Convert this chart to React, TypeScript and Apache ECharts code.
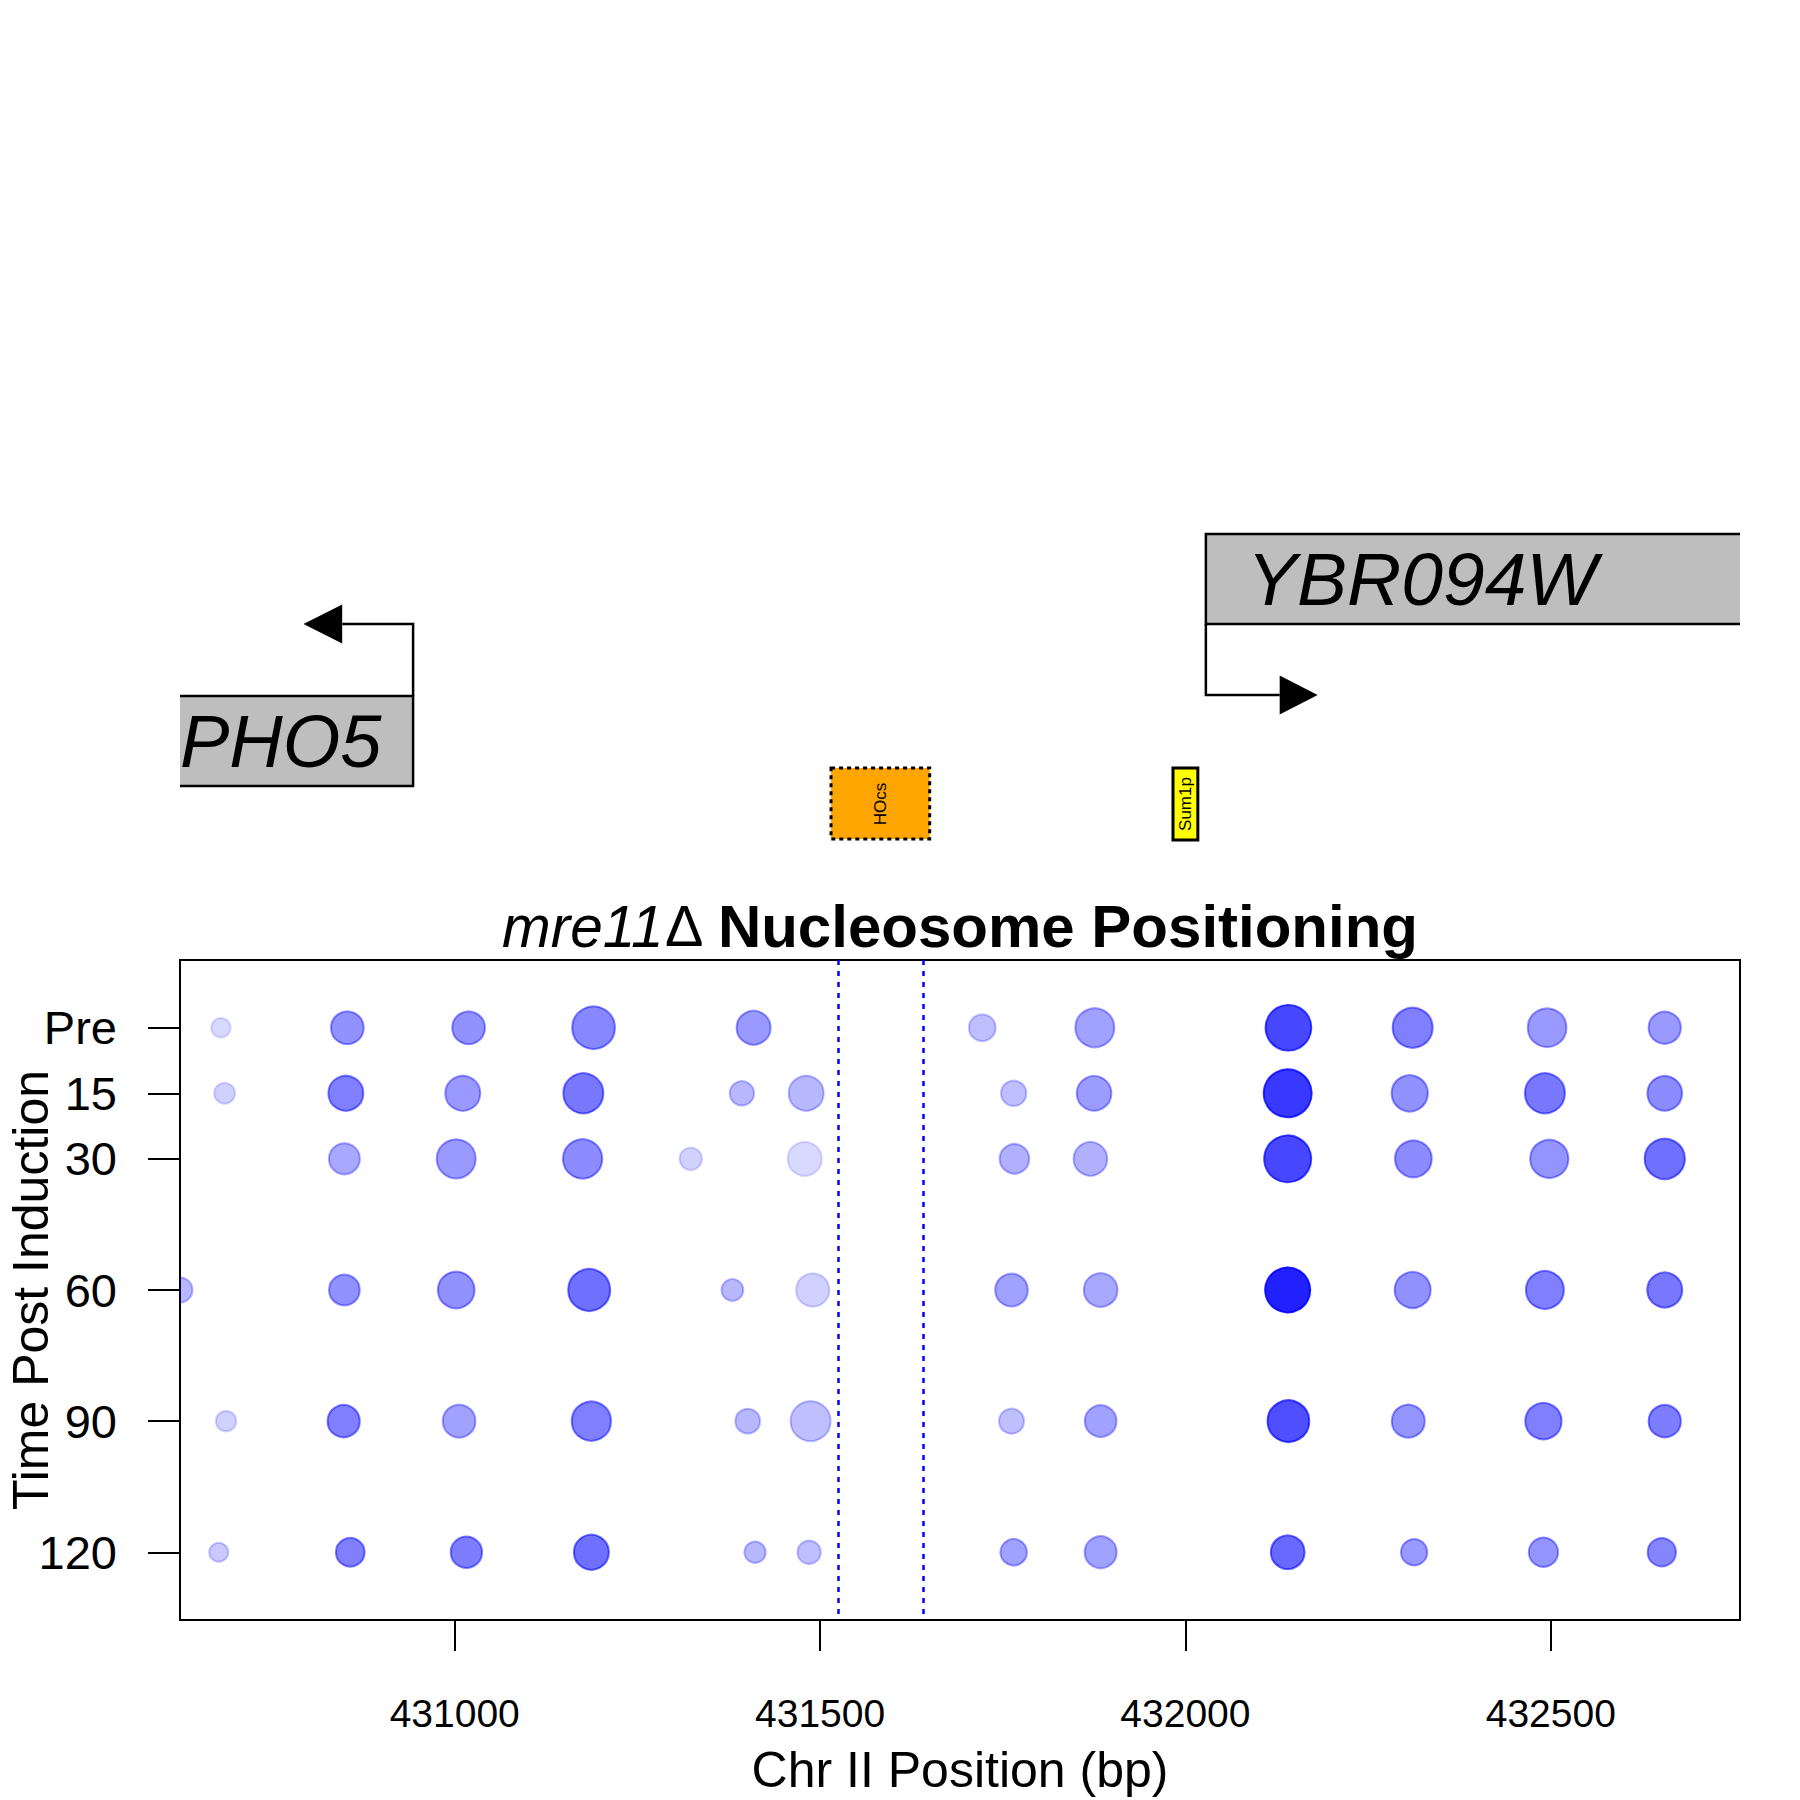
import React, { useEffect, useRef } from 'react';
import * as echarts from 'echarts';

// ---- axis ----
const xMin = 430624;
const xMax = 432759;
const xTicks = [431000, 431500, 432000, 432500];
const timeLabels = ['Pre', '15', '30', '60', '90', '120'];
const timeMinutes = [0, 15, 30, 60, 90, 120];

// ---- nucleosome calls: position (bp), occupancy (circle diameter), signal (opacity) ----
const posPre = [430680, 430853, 431019, 431190, 431409, 431722, 431876, 432141, 432311, 432495, 432656];
const occPre = [19.3, 32.7, 32.7, 42.7, 34, 26.7, 39, 45.7, 40, 38.7, 32.3];
const sigPre = [0.15, 0.43, 0.43, 0.47, 0.4, 0.25, 0.37, 0.72, 0.5, 0.4, 0.4];

const pos15 = [430685, 430851, 431011, 431176, 431393, 431481, 431765, 431875, 432140, 432307, 432492, 432656];
const occ15 = [20.7, 35, 35, 40, 24.3, 35, 25.3, 34.7, 48, 36.3, 40, 34.7];
const sig15 = [0.18, 0.5, 0.4, 0.53, 0.28, 0.28, 0.25, 0.39, 0.78, 0.43, 0.53, 0.45];

const pos30 = [430849, 431002, 431175, 431323, 431479, 431766, 431870, 432140, 432312, 432498, 432656];
const occ30 = [31, 39, 39.3, 22.3, 34, 29.7, 33.7, 47, 36.7, 38.3, 40.3];
const sig30 = [0.34, 0.4, 0.45, 0.18, 0.15, 0.31, 0.31, 0.72, 0.45, 0.42, 0.56];

const pos60 = [430624, 430849, 431002, 431184, 431380, 431490, 431762, 431884, 432140, 432311, 432492, 432656];
const occ60 = [25, 30.7, 36.7, 42, 21.7, 33.3, 32.7, 33.7, 45, 36, 38, 35];
const sig60 = [0.28, 0.43, 0.43, 0.56, 0.28, 0.18, 0.37, 0.34, 0.87, 0.43, 0.5, 0.53];

const pos90 = [430687, 430848, 431006, 431187, 431401, 431487, 431762, 431884, 432141, 432305, 432490, 432656];
const occ90 = [20.3, 32.3, 32.7, 39.3, 24.7, 40, 25, 31.7, 41.7, 33, 36.3, 32.3];
const sig90 = [0.18, 0.5, 0.37, 0.5, 0.28, 0.25, 0.25, 0.37, 0.69, 0.42, 0.5, 0.51];

const pos120 = [430677, 430857, 431016, 431187, 431411, 431485, 431765, 431884, 432140, 432313, 432490, 432652];
const occ120 = [19, 28.7, 31.3, 35, 21.3, 23.3, 26.5, 32, 33.7, 26.3, 29.3, 28.3];
const sig120 = [0.21, 0.5, 0.51, 0.56, 0.28, 0.25, 0.37, 0.37, 0.59, 0.4, 0.42, 0.48];

const rowPositions = [posPre, pos15, pos30, pos60, pos90, pos120];
const rowOccupancy = [occPre, occ15, occ30, occ60, occ90, occ120];
const rowSignal = [sigPre, sig15, sig30, sig60, sig90, sig120];

// ---- annotation features (bp) ----
const hoCutLines = [431525, 431641];
const pho5End = 430943;
const pho5ArrowBase = 430846;
const pho5ArrowTip = 430793;
const ybrStart = 432028;
const ybrArrowBase = 432129;
const ybrArrowTip = 432181;
const hoStart = 431515;
const hoEnd = 431650;
const sumStart = 431983;
const sumEnd = 432017;

const FONT = '"Liberation Sans", Arial, Helvetica, sans-serif';

export default function App() {
  const ref = useRef<HTMLDivElement>(null);

  useEffect(() => {
    const chart = echarts.init(ref.current!, null, { renderer: 'svg' });

    const points: number[][] = [];
    rowPositions.forEach((row, i) => {
      row.forEach((p, j) => {
        points.push([p, timeMinutes[i], rowOccupancy[i][j], rowSignal[i][j]]);
      });
    });

    chart.setOption({
      animation: false,
      backgroundColor: '#ffffff',
      grid: {
        left: 180,
        right: 60,
        top: 960,
        bottom: 180,
        containLabel: false,
        outerBoundsMode: 'none',
        show: true,
        borderColor: '#000',
        borderWidth: 2,
        backgroundColor: 'transparent',
      },
      xAxis: {
        type: 'value',
        min: xMin,
        max: xMax,
        name: 'Chr II Position (bp)',
        nameLocation: 'middle',
        nameGap: 125,
        nameTextStyle: { fontSize: 50, color: '#000', fontFamily: FONT },
        axisLine: { show: false, onZero: false },
        splitLine: { show: false },
        axisTick: {
          show: true,
          length: 31,
          customValues: xTicks,
          lineStyle: { color: '#000', width: 2 },
        },
        axisLabel: {
          customValues: xTicks,
          margin: 74,
          fontSize: 39,
          color: '#000',
          fontFamily: FONT,
          formatter: (v: number) => String(v),
        },
      },
      yAxis: {
        type: 'value',
        inverse: true,
        min: -15.5,
        max: 135.5,
        axisLine: { show: false, onZero: false },
        splitLine: { show: false },
        axisTick: {
          show: true,
          length: 32,
          customValues: timeMinutes,
          lineStyle: { color: '#000', width: 2 },
        },
        axisLabel: {
          customValues: timeMinutes,
          margin: 63,
          fontSize: 47,
          color: '#000',
          fontFamily: FONT,
          formatter: (v: number) => timeLabels[timeMinutes.indexOf(v)],
        },
      },
      series: [
        {
          type: 'custom',
          clip: true,
          silent: true,
          data: points,
          encode: { x: 0, y: 1 },
          renderItem: (_params: any, api: any) => {
            const c = api.coord([api.value(0), api.value(1)]);
            const r = api.value(2) / 2;
            const a = api.value(3);
            const col = `rgba(0,0,255,${a})`;
            return {
              type: 'circle',
              shape: { cx: c[0], cy: c[1], r },
              style: { fill: col, stroke: col, lineWidth: 2 },
            };
          },
        },
        {
          type: 'line',
          data: [],
          silent: true,
          markLine: {
            silent: true,
            symbol: ['none', 'none'],
            label: { show: false },
            lineStyle: { color: '#0000ff', width: 2.5, type: [5, 6] },
            data: hoCutLines.map((v) => ({ xAxis: v })),
          },
        },
      ],
    });

    const px = (bp: number) => chart.convertToPixel({ xAxisIndex: 0 }, bp) as number;
    const L = px(xMin);
    const R = px(xMax);
    const p5 = px(pho5End);
    const p5b = px(pho5ArrowBase);
    const p5t = px(pho5ArrowTip);
    const yb = px(ybrStart);
    const ybb = px(ybrArrowBase);
    const ybt = px(ybrArrowTip);
    const h0 = px(hoStart);
    const h1 = px(hoEnd);
    const s0 = px(sumStart);
    const s1 = px(sumEnd);
    const lw = 2.5;

    chart.setOption({
      graphic: [
        // title
        {
          type: 'text',
          x: (L + R) / 2,
          y: 926,
          style: {
            text: '{i|mre11}{n|Δ }{b|Nucleosome Positioning}',
            align: 'center',
            verticalAlign: 'middle',
            fill: '#000',
            fontFamily: FONT,
            rich: {
              i: { fontStyle: 'italic', fontSize: 58.5, fontFamily: FONT, fill: '#000' },
              n: { fontSize: 57.5, fontFamily: FONT, fill: '#000' },
              b: { fontWeight: 'bold', fontSize: 60, fontFamily: FONT, fill: '#000' },
            },
          },
        },
        // y axis title
        {
          type: 'text',
          x: 31,
          y: 1290,
          rotation: Math.PI / 2,
          style: { text: 'Time Post Induction', fontSize: 50, fontFamily: FONT, fill: '#000', align: 'center', verticalAlign: 'middle' },
        },
        // PHO5 gene box
        { type: 'rect', shape: { x: L, y: 696, width: p5 - L, height: 90 }, style: { fill: '#bebebe' } },
        {
          type: 'polyline',
          shape: { points: [[L, 696], [p5, 696], [p5, 786], [L, 786]] },
          style: { stroke: '#000', lineWidth: lw, fill: 'none' },
        },
        {
          type: 'text',
          x: L,
          y: 741,
          style: { text: 'PHO5', fontStyle: 'italic', fontSize: 74, fontFamily: FONT, fill: '#000', align: 'left', verticalAlign: 'middle' },
        },
        {
          type: 'polyline',
          shape: { points: [[p5, 696], [p5, 624], [p5b, 624]] },
          style: { stroke: '#000', lineWidth: lw, fill: 'none' },
        },
        {
          type: 'polygon',
          shape: { points: [[p5t, 624], [p5b, 604.5], [p5b, 643.5]] },
          style: { fill: '#000' },
        },
        // YBR094W gene box
        { type: 'rect', shape: { x: yb, y: 534, width: R - yb, height: 90 }, style: { fill: '#bebebe' } },
        {
          type: 'polyline',
          shape: { points: [[R, 534], [yb, 534], [yb, 624], [R, 624]] },
          style: { stroke: '#000', lineWidth: lw, fill: 'none' },
        },
        {
          type: 'text',
          x: 1247,
          y: 579,
          style: { text: 'YBR094W', fontStyle: 'italic', fontSize: 75, fontFamily: FONT, fill: '#000', align: 'left', verticalAlign: 'middle' },
        },
        {
          type: 'polyline',
          shape: { points: [[yb, 624], [yb, 695], [ybb, 695]] },
          style: { stroke: '#000', lineWidth: lw, fill: 'none' },
        },
        {
          type: 'polygon',
          shape: { points: [[ybt, 695], [ybb, 675.5], [ybb, 714.5]] },
          style: { fill: '#000' },
        },
        // HO cut site
        {
          type: 'rect',
          shape: { x: h0, y: 768, width: h1 - h0, height: 71 },
          style: { fill: '#ffa500', stroke: '#000', lineWidth: 3, lineDash: [4, 4] },
        },
        {
          type: 'text',
          x: (h0 + h1) / 2,
          y: 804,
          rotation: Math.PI / 2,
          style: { text: 'HOcs', fontSize: 17, fontFamily: FONT, fill: '#000', align: 'center', verticalAlign: 'middle' },
        },
        // Sum1p site
        {
          type: 'rect',
          shape: { x: s0, y: 768, width: s1 - s0, height: 72 },
          style: { fill: '#ffff00', stroke: '#000', lineWidth: 3 },
        },
        {
          type: 'text',
          x: (s0 + s1) / 2,
          y: 804,
          rotation: Math.PI / 2,
          style: { text: 'Sum1p', fontSize: 17, fontFamily: FONT, fill: '#000', align: 'center', verticalAlign: 'middle' },
        },
      ],
    });

    return () => chart.dispose();
  }, []);

  return <div ref={ref} style={{ position: 'absolute', left: 0, top: 0, width: 1800, height: 1800 }} />;
}
